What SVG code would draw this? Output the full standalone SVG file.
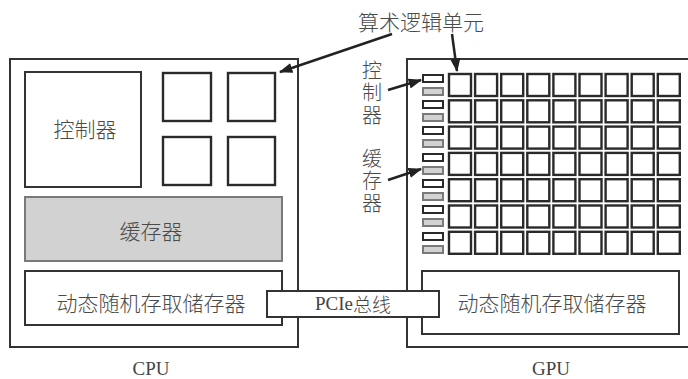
<svg xmlns="http://www.w3.org/2000/svg" width="688" height="379" viewBox="0 0 688 379">
<style>
.box{fill:#fff;stroke:#333;stroke-width:2}
.alu{fill:#fff;stroke:#2a2a2a;stroke-width:2.4}
.ctl{fill:#fff;stroke:#2a2a2a;stroke-width:2}
.cache{fill:#d2d2d2;stroke:#7a7a7a;stroke-width:2}
.cn{font-family:"Noto Sans CJK SC","Liberation Sans",sans-serif;font-size:21px;font-weight:300;fill:#4a4a4a;text-anchor:middle;dominant-baseline:central}
.vt{font-size:20px;writing-mode:vertical-rl;text-anchor:start;letter-spacing:2.5px}
.lat{font-family:"Liberation Serif","Noto Sans CJK SC",serif;font-size:19px;fill:#444;text-anchor:middle;dominant-baseline:central}
.arr{stroke:#222;stroke-width:2.5;fill:none;marker-end:url(#ah)}
</style>
<defs>
<marker id="ah" viewBox="0 0 12 10" refX="11" refY="5" markerWidth="5.5" markerHeight="4.5" orient="auto" markerUnits="strokeWidth">
<path d="M0,0.5 L12,5 L0,9.5 Z" fill="#222"/>
</marker>
</defs>
<rect width="688" height="379" fill="#fff"/>
<g id="cpu">
<rect class="box" x="10" y="59" width="288" height="288"/>
<text class="lat" x="151" y="368">CPU</text>
</g>
<g id="cpu-controller">
<rect class="box" x="25" y="72" width="116" height="115" stroke-width="2.4"/>
<text class="cn" x="85" y="128">控制器</text>
</g>
<g id="cpu-alu">
<rect class="alu" x="163" y="73" width="48" height="48"/>
<rect class="alu" x="228" y="73" width="47" height="48"/>
<rect class="alu" x="163" y="137" width="48" height="48"/>
<rect class="alu" x="228" y="137" width="47" height="48"/>
</g>
<g id="cpu-cache">
<rect class="cache" x="25" y="197" width="257" height="64"/>
<text class="cn" x="151" y="230">缓存器</text>
</g>
<g id="cpu-dram">
<rect class="box" x="25" y="271" width="257" height="54"/>
<text class="cn" x="151" y="302">动态随机存取储存器</text>
</g>
<g id="gpu">
<rect class="box" x="407" y="59" width="290" height="288"/>
<text class="lat" x="551" y="368">GPU</text>
</g>
<g id="gpu-dram">
<rect class="box" x="422" y="271" width="257" height="63"/>
<text class="cn" x="552" y="302">动态随机存取储存器</text>
</g>
<g id="gpu-grid">
<rect class="ctl" x="423" y="75" width="20" height="7"/><rect class="cache" x="423" y="88" width="20" height="7"/>
<rect class="ctl" x="423" y="101" width="20" height="7"/><rect class="cache" x="423" y="114" width="20" height="7"/>
<rect class="ctl" x="423" y="127" width="20" height="7"/><rect class="cache" x="423" y="140" width="20" height="7"/>
<rect class="ctl" x="423" y="154" width="20" height="7"/><rect class="cache" x="423" y="167" width="20" height="7"/>
<rect class="ctl" x="423" y="180" width="20" height="7"/><rect class="cache" x="423" y="193" width="20" height="7"/>
<rect class="ctl" x="423" y="206" width="20" height="7"/><rect class="cache" x="423" y="219" width="20" height="7"/>
<rect class="ctl" x="423" y="233" width="20" height="7"/><rect class="cache" x="423" y="246" width="20" height="7"/>
</g>
<g id="gpu-alus">
<rect class="alu" x="449" y="74" width="22" height="22"/><rect class="alu" x="475.1" y="74" width="22" height="22"/><rect class="alu" x="501.2" y="74" width="22" height="22"/><rect class="alu" x="527.3" y="74" width="22" height="22"/><rect class="alu" x="553.4" y="74" width="22" height="22"/><rect class="alu" x="579.5" y="74" width="22" height="22"/><rect class="alu" x="605.6" y="74" width="22" height="22"/><rect class="alu" x="631.7" y="74" width="22" height="22"/><rect class="alu" x="657.8" y="74" width="22" height="22"/>
<rect class="alu" x="449" y="100.3" width="22" height="22"/><rect class="alu" x="475.1" y="100.3" width="22" height="22"/><rect class="alu" x="501.2" y="100.3" width="22" height="22"/><rect class="alu" x="527.3" y="100.3" width="22" height="22"/><rect class="alu" x="553.4" y="100.3" width="22" height="22"/><rect class="alu" x="579.5" y="100.3" width="22" height="22"/><rect class="alu" x="605.6" y="100.3" width="22" height="22"/><rect class="alu" x="631.7" y="100.3" width="22" height="22"/><rect class="alu" x="657.8" y="100.3" width="22" height="22"/>
<rect class="alu" x="449" y="126.6" width="22" height="22"/><rect class="alu" x="475.1" y="126.6" width="22" height="22"/><rect class="alu" x="501.2" y="126.6" width="22" height="22"/><rect class="alu" x="527.3" y="126.6" width="22" height="22"/><rect class="alu" x="553.4" y="126.6" width="22" height="22"/><rect class="alu" x="579.5" y="126.6" width="22" height="22"/><rect class="alu" x="605.6" y="126.6" width="22" height="22"/><rect class="alu" x="631.7" y="126.6" width="22" height="22"/><rect class="alu" x="657.8" y="126.6" width="22" height="22"/>
<rect class="alu" x="449" y="152.9" width="22" height="22"/><rect class="alu" x="475.1" y="152.9" width="22" height="22"/><rect class="alu" x="501.2" y="152.9" width="22" height="22"/><rect class="alu" x="527.3" y="152.9" width="22" height="22"/><rect class="alu" x="553.4" y="152.9" width="22" height="22"/><rect class="alu" x="579.5" y="152.9" width="22" height="22"/><rect class="alu" x="605.6" y="152.9" width="22" height="22"/><rect class="alu" x="631.7" y="152.9" width="22" height="22"/><rect class="alu" x="657.8" y="152.9" width="22" height="22"/>
<rect class="alu" x="449" y="179.2" width="22" height="22"/><rect class="alu" x="475.1" y="179.2" width="22" height="22"/><rect class="alu" x="501.2" y="179.2" width="22" height="22"/><rect class="alu" x="527.3" y="179.2" width="22" height="22"/><rect class="alu" x="553.4" y="179.2" width="22" height="22"/><rect class="alu" x="579.5" y="179.2" width="22" height="22"/><rect class="alu" x="605.6" y="179.2" width="22" height="22"/><rect class="alu" x="631.7" y="179.2" width="22" height="22"/><rect class="alu" x="657.8" y="179.2" width="22" height="22"/>
<rect class="alu" x="449" y="205.5" width="22" height="22"/><rect class="alu" x="475.1" y="205.5" width="22" height="22"/><rect class="alu" x="501.2" y="205.5" width="22" height="22"/><rect class="alu" x="527.3" y="205.5" width="22" height="22"/><rect class="alu" x="553.4" y="205.5" width="22" height="22"/><rect class="alu" x="579.5" y="205.5" width="22" height="22"/><rect class="alu" x="605.6" y="205.5" width="22" height="22"/><rect class="alu" x="631.7" y="205.5" width="22" height="22"/><rect class="alu" x="657.8" y="205.5" width="22" height="22"/>
<rect class="alu" x="449" y="231.8" width="22" height="22"/><rect class="alu" x="475.1" y="231.8" width="22" height="22"/><rect class="alu" x="501.2" y="231.8" width="22" height="22"/><rect class="alu" x="527.3" y="231.8" width="22" height="22"/><rect class="alu" x="553.4" y="231.8" width="22" height="22"/><rect class="alu" x="579.5" y="231.8" width="22" height="22"/><rect class="alu" x="605.6" y="231.8" width="22" height="22"/><rect class="alu" x="631.7" y="231.8" width="22" height="22"/><rect class="alu" x="657.8" y="231.8" width="22" height="22"/>
</g>
<g id="pcie">
<rect class="box" x="267" y="291" width="172" height="26"/>
<text x="353" y="303" class="lat" font-size="20"><tspan>PCIe</tspan><tspan font-family="Noto Sans CJK SC, sans-serif" font-weight="300">总线</tspan></text>
</g>
<g id="labels">
<text class="cn" x="421" y="21" font-size="22">算术逻辑单元</text>
<text class="cn vt" x="372" y="60">控制器</text>
<text class="cn vt" x="372" y="148">缓存器</text>
</g>
<g id="connectors">
<line class="arr" x1="392" y1="34" x2="280" y2="72"/>
<line class="arr" x1="452" y1="34" x2="457" y2="71"/>
<line class="arr" x1="388" y1="90" x2="421" y2="80"/>
<line class="arr" x1="388" y1="180" x2="421" y2="169"/>
</g>
</svg>
